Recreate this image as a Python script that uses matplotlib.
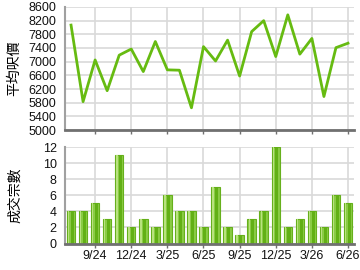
import numpy as np
import matplotlib.pyplot as plt

plt.rcParams['font.family'] = ['Liberation Sans', 'Noto Sans CJK TC', 'DejaVu Sans']

# monthly data 7/24 .. 6/26
months = ['7/24', '8/24', '9/24', '10/24', '11/24', '12/24', '1/25', '2/25',
          '3/25', '4/25', '5/25', '6/25', '7/25', '8/25', '9/25', '10/25',
          '11/25', '12/25', '1/26', '2/26', '3/26', '4/26', '5/26', '6/26']
avg_price = [8070, 5830, 7050, 6150, 7190, 7370, 6710, 7590, 6760, 6750,
             5650, 7440, 7020, 7630, 6580, 7880, 8200, 7150, 8370, 7220,
             7680, 5980, 7410, 7540]
volume = [4, 4, 5, 3, 11, 2, 3, 2, 6, 4, 4, 2, 7, 2, 1, 3, 4, 12, 2, 3, 4, 2, 6, 5]
tick_labels = ['9/24', '12/24', '3/25', '6/25', '9/25', '12/25', '3/26', '6/26']

x = np.arange(len(months))
tick_pos = [months.index(t) for t in tick_labels]

fig = plt.figure(figsize=(3.6, 2.7), dpi=100)
ax1 = fig.add_axes([0.1806, 0.5185, 0.8028, 0.4556])
ax2 = fig.add_axes([0.1806, 0.0981, 0.8028, 0.357])

grid_c = '#d9d9d9'
for ax in (ax1, ax2):
    ax.set_xlim(-0.5, len(months) - 0.5)
    ax.set_xticks(tick_pos)
    ax.grid(True, color=grid_c, linewidth=1.2)
    ax.set_axisbelow(True)
    for s in ('top', 'right'):
        ax.spines[s].set_visible(False)
    ax.spines['left'].set_color('#a0a0a0')
    ax.spines['left'].set_linewidth(1.5)
    ax.spines['bottom'].set_color('#707070')
    ax.spines['bottom'].set_linewidth(2)
    ax.tick_params(axis='y', length=0, labelsize=9, pad=6, colors='#111111')
    ax.tick_params(axis='x', length=3, width=1, color='#707070', labelsize=9,
                   colors='#111111', pad=2)

# top: average price line
ax1.plot(x, avg_price, color='#66bb11', linewidth=2)
ax1.set_ylim(5000, 8600)
ax1.set_yticks(np.arange(5000, 8601, 400))
ax1.tick_params(axis='x', labelbottom=False)
ax1.set_ylabel('平均呎價', fontsize=10, family=['Noto Sans CJK TC'])

# bottom: volume bars
ax2.bar(x, volume, width=0.7, color='#8acb45', edgecolor='#66b01c', linewidth=0.8)
ax2.bar(x + 0.1, volume, width=0.25, color='#62b015', linewidth=0)
ax2.bar(x - 0.2, volume, width=0.12, color='#b9e27f', linewidth=0)
ax2.set_ylim(0, 12)
ax2.set_yticks(np.arange(0, 13, 2))
ax2.set_xticklabels(tick_labels)
ax2.set_ylabel('成交宗數', fontsize=10, family=['Noto Sans CJK TC'])

ax1.yaxis.set_label_coords(-0.15, 0.5)
ax2.yaxis.set_label_coords(-0.15, 0.5)

fig.savefig('out.png', dpi=100)
